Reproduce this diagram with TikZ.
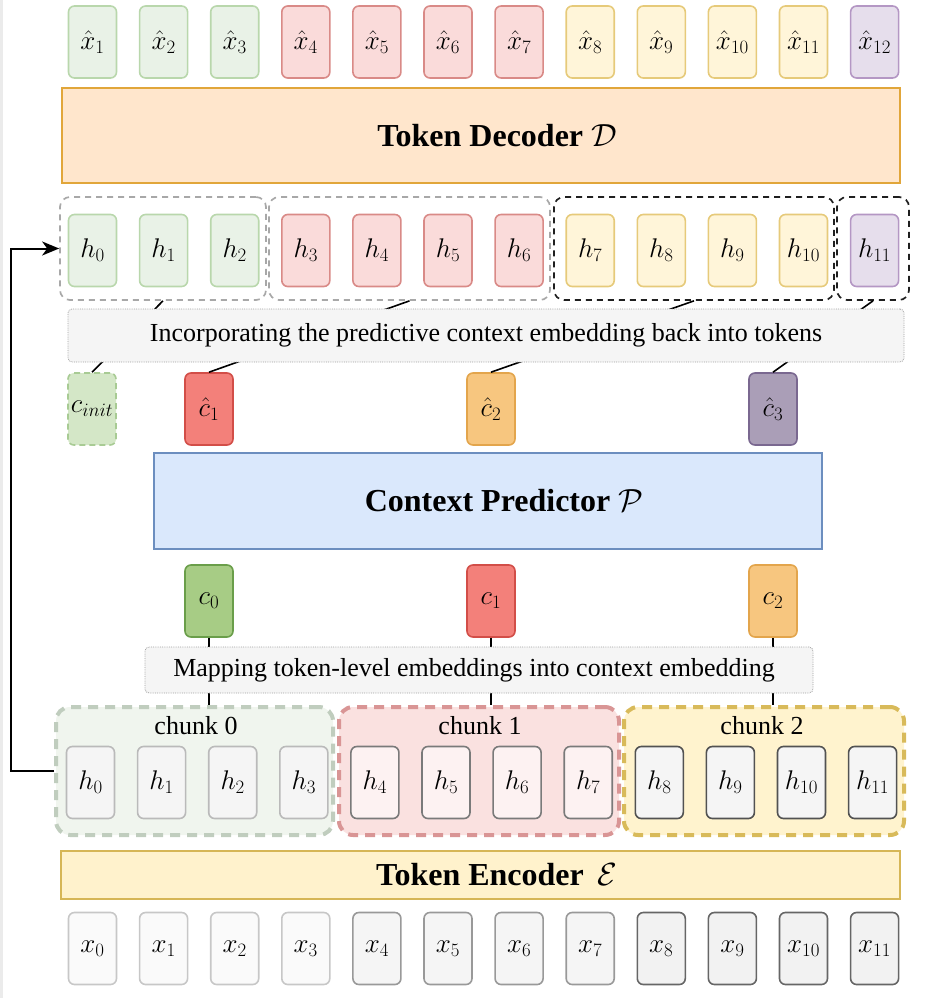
\RequirePackage{fix-cm}
\documentclass[tikz,border=0pt]{standalone}
\usepackage[no-math]{fontspec}
\setmainfont{Liberation Serif}
\usepackage{amsmath}
\usetikzlibrary{shapes,arrows.meta,positioning}

\definecolor{grnF}{HTML}{E9F2E7}
\definecolor{grnD}{HTML}{B9D7AC}
\definecolor{redF}{HTML}{FADBDA}
\definecolor{redD}{HTML}{D98A87}
\definecolor{yelF}{HTML}{FFF5D9}
\definecolor{yelD}{HTML}{E6CA7A}
\definecolor{purF}{HTML}{E6DEEC}
\definecolor{purD}{HTML}{B497C4}
\definecolor{decF}{HTML}{FFE6CC}
\definecolor{decD}{HTML}{E1A63A}
\definecolor{preF}{HTML}{DAE8FC}
\definecolor{preD}{HTML}{6C8EBF}
\definecolor{encF}{HTML}{FFF2CC}
\definecolor{encD}{HTML}{D6B656}
\definecolor{ctxR}{HTML}{F3807A}
\definecolor{ctxRD}{HTML}{D24E48}
\definecolor{ctxO}{HTML}{F7C67F}
\definecolor{ctxOD}{HTML}{E3A54C}
\definecolor{ctxP}{HTML}{AA9EB7}
\definecolor{ctxPD}{HTML}{7A6890}
\definecolor{ctxG}{HTML}{A7CC85}
\definecolor{ctxGD}{HTML}{6A9E4A}
\definecolor{initF}{HTML}{D4E7C7}
\definecolor{initD}{HTML}{A8CB94}
\definecolor{chkGF}{HTML}{F0F5EE}
\definecolor{chkGD}{HTML}{C0CDBE}
\definecolor{chkRF}{HTML}{FAE1E0}
\definecolor{chkRD}{HTML}{D99595}
\definecolor{chkYF}{HTML}{FFF3CE}
\definecolor{chkYD}{HTML}{D8BA5A}
\definecolor{lblF}{HTML}{F5F5F5}
\definecolor{lblD}{HTML}{9E9E9E}

\tikzstyle{tok} = [rectangle, rounded corners=6pt, draw, line width=1.6pt, minimum width=48pt, minimum height=72pt, inner sep=0pt, font=\fontsize{27}{31}\selectfont]
\tikzstyle{gtok} = [tok, fill=grnF, draw=grnD]
\tikzstyle{rtok} = [tok, fill=redF, draw=redD]
\tikzstyle{ytok} = [tok, fill=yelF, draw=yelD]
\tikzstyle{ptok} = [tok, fill=purF, draw=purD]
\tikzstyle{atok} = [tok, fill=black!4, draw=black!27]
\tikzstyle{btok} = [tok, fill=black!5, draw=black!52]
\tikzstyle{ctok} = [tok, fill=black!4, draw=black!68]
\tikzstyle{xatok} = [tok, fill=black!2, draw=black!22]
\tikzstyle{xbtok} = [tok, fill=black!4, draw=black!40]
\tikzstyle{xctok} = [tok, fill=black!5, draw=black!60]
\tikzstyle{block} = [rectangle, draw, line width=1.8pt, inner sep=0pt]
\tikzstyle{title} = [inner sep=0pt, xshift=16pt, font=\fontsize{32}{38}\selectfont\bfseries]
\tikzstyle{lbl} = [rectangle, rounded corners=4pt, fill=lblF, draw=lblD, densely dotted, line width=0.8pt, inner sep=0pt, font=\fontsize{26}{30}\selectfont]
\tikzstyle{grpl} = [rectangle, rounded corners=10pt, draw=black!34, dash pattern=on 6pt off 5pt, line width=1.7pt, minimum height=103pt, inner sep=0pt]
\tikzstyle{grpd} = [grpl, draw=black!88]
\tikzstyle{chunk} = [rectangle, rounded corners=14pt, dash pattern=on 10pt off 7pt, line width=4pt, minimum height=128pt, inner sep=0pt]
\tikzstyle{ctext} = [inner sep=0pt, font=\fontsize{26}{30}\selectfont]
\tikzstyle{line} = [draw, line width=1.6pt]
\tikzstyle{fb} = [draw, line width=2pt, -{Stealth[length=17pt, width=14pt, inset=5pt]}]

\begin{document}
\begin{tikzpicture}[x=1pt, y=-1pt]
	\useasboundingbox (0,0) rectangle (934,998);
	\fill [black!8] (0,0) rectangle (3,998);

	% reconstructed tokens
	\node [gtok] (xh1) at (92.5,42) {$\hat{x}_1$};
	\node [gtok] (xh2) at (163.6,42) {$\hat{x}_2$};
	\node [gtok] (xh3) at (234.7,42) {$\hat{x}_3$};
	\node [rtok] (xh4) at (305.8,42) {$\hat{x}_4$};
	\node [rtok] (xh5) at (376.9,42) {$\hat{x}_5$};
	\node [rtok] (xh6) at (448.0,42) {$\hat{x}_6$};
	\node [rtok] (xh7) at (519.1,42) {$\hat{x}_7$};
	\node [ytok] (xh8) at (590.2,42) {$\hat{x}_8$};
	\node [ytok] (xh9) at (661.3,42) {$\hat{x}_9$};
	\node [ytok] (xh10) at (732.4,42) {$\hat{x}_{10}$};
	\node [ytok] (xh11) at (803.5,42) {$\hat{x}_{11}$};
	\node [ptok] (xh12) at (874.6,42) {$\hat{x}_{12}$};

	\node [block, fill=decF, draw=decD, minimum width=838pt, minimum height=95pt] (dec) at (481,135.5) {};
	\node [title] (dect) at (dec) {Token Decoder $\mathcal{D}$};

	% tokens with context
	\node [gtok] (h0) at (92.5,250.5) {$h_0$};
	\node [gtok] (h1) at (163.6,250.5) {$h_1$};
	\node [gtok] (h2) at (234.7,250.5) {$h_2$};
	\node [rtok] (h3) at (305.8,250.5) {$h_3$};
	\node [rtok] (h4) at (376.9,250.5) {$h_4$};
	\node [rtok] (h5) at (448.0,250.5) {$h_5$};
	\node [rtok] (h6) at (519.1,250.5) {$h_6$};
	\node [ytok] (h7) at (590.2,250.5) {$h_7$};
	\node [ytok] (h8) at (661.3,250.5) {$h_8$};
	\node [ytok] (h9) at (732.4,250.5) {$h_9$};
	\node [ytok] (h10) at (803.5,250.5) {$h_{10}$};
	\node [ptok] (h11) at (874.6,250.5) {$h_{11}$};

	\node [grpl, minimum width=206pt] (grp0) at (163,248.5) {};
	\node [grpl, minimum width=281pt] (grp1) at (409.5,248.5) {};
	\node [grpd, minimum width=280pt] (grp2) at (694,248.5) {};
	\node [grpd, minimum width=72pt] (grp3) at (873,248.5) {};

	% predicted contexts
	\node [tok, fill=initF, draw=initD, dash pattern=on 6pt off 4pt] (cinit) at (92,409) {$c_{init}$};
	\node [tok, fill=ctxR, draw=ctxRD] (ch1) at (209,409) {$\hat{c}_1$};
	\node [tok, fill=ctxO, draw=ctxOD] (ch2) at (491,409) {$\hat{c}_2$};
	\node [tok, fill=ctxP, draw=ctxPD] (ch3) at (773,409) {$\hat{c}_3$};

	\path [line] (cinit.north) -- (grp0.south);
	\path [line] (ch1.north) -- (grp1.south);
	\path [line] (ch2.north) -- (grp2.south);
	\path [line] (ch3.north) -- (grp3.south);

	\node [lbl, minimum width=836pt, minimum height=53pt] (inc) at (486,335.5) {Incorporating the predictive context embedding back into tokens};

	\node [block, fill=preF, draw=preD, minimum width=668pt, minimum height=96pt] (pred) at (488,501) {};
	\node [title] (predt) at (pred) {Context Predictor $\mathcal{P}$};

	% chunk contexts
	\node [tok, fill=ctxG, draw=ctxGD] (c0) at (209,601) {$c_0$};
	\node [tok, fill=ctxR, draw=ctxRD] (c1) at (491,601) {$c_1$};
	\node [tok, fill=ctxO, draw=ctxOD] (c2) at (773,601) {$c_2$};

	\node [chunk, fill=chkGF, draw=chkGD, minimum width=277pt] (chunk0) at (194.5,771) {};
	\node [chunk, fill=chkRF, draw=chkRD, minimum width=280pt] (chunk1) at (479,771) {};
	\node [chunk, fill=chkYF, draw=chkYD, minimum width=280pt] (chunk2) at (764,771) {};

	\path [line] (c0.south) -- (c0.south |- chunk0.north);
	\path [line] (c1.south) -- (c1.south |- chunk1.north);
	\path [line] (c2.south) -- (c2.south |- chunk2.north);

	\node [lbl, minimum width=668pt, minimum height=46pt] (map) at (479,670) {};
	\node [ctext] (mapt) at (474,670) {Mapping token-level embeddings into context embedding};

	\node [ctext] (lab0) at (196,726) {chunk 0};
	\node [ctext] (lab1) at (480,726) {chunk 1};
	\node [ctext] (lab2) at (762,726) {chunk 2};

	% encoded tokens
	\node [atok] (e0) at (90.5,782.5) {$h_0$};
	\node [atok] (e1) at (161.6,782.5) {$h_1$};
	\node [atok] (e2) at (232.7,782.5) {$h_2$};
	\node [atok] (e3) at (303.8,782.5) {$h_3$};
	\node [btok, fill=redF!35] (e4) at (374.9,782.5) {$h_4$};
	\node [btok, fill=redF!35] (e5) at (446.0,782.5) {$h_5$};
	\node [btok, fill=redF!35] (e6) at (517.1,782.5) {$h_6$};
	\node [btok, fill=redF!35] (e7) at (588.2,782.5) {$h_7$};
	\node [ctok] (e8) at (659.3,782.5) {$h_8$};
	\node [ctok] (e9) at (730.4,782.5) {$h_9$};
	\node [ctok] (e10) at (801.5,782.5) {$h_{10}$};
	\node [ctok] (e11) at (872.6,782.5) {$h_{11}$};

	\node [block, fill=encF, draw=encD, minimum width=839pt, minimum height=48pt] (enc) at (480.5,875) {};
	\node [title] (enct) at (enc) {Token Encoder \,$\mathcal{E}$};

	% input tokens
	\node [xatok] (x0) at (92.5,948.5) {$x_0$};
	\node [xatok] (x1) at (163.6,948.5) {$x_1$};
	\node [xatok] (x2) at (234.7,948.5) {$x_2$};
	\node [xatok] (x3) at (305.8,948.5) {$x_3$};
	\node [xbtok] (x4) at (376.9,948.5) {$x_4$};
	\node [xbtok] (x5) at (448.0,948.5) {$x_5$};
	\node [xbtok] (x6) at (519.1,948.5) {$x_6$};
	\node [xbtok] (x7) at (590.2,948.5) {$x_7$};
	\node [xctok] (x8) at (661.3,948.5) {$x_8$};
	\node [xctok] (x9) at (732.4,948.5) {$x_9$};
	\node [xctok] (x10) at (803.5,948.5) {$x_{10}$};
	\node [xctok] (x11) at (874.6,948.5) {$x_{11}$};

	% feedback
	\coordinate (fbx) at (11,0);
	\path [fb] (chunk0.west) -- (chunk0.west -| fbx) |- (grp0.west);
\end{tikzpicture}
\end{document}
